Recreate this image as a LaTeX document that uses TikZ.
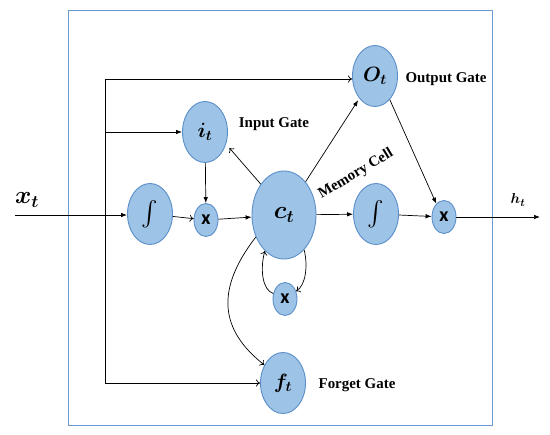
\documentclass[tikz,border=0pt]{standalone}
\usepackage{amsmath}
\usepackage{bm}
\usepackage{fontspec}
\setmainfont{Liberation Serif}
\newfontfamily\multfont{Carlito}
\usetikzlibrary{shapes.geometric, positioning, arrows.meta}

\definecolor{cellfill}{HTML}{9DC3E6}
\definecolor{cellline}{HTML}{5B8FC9}
\definecolor{framecol}{HTML}{6A9AD0}

\begin{document}
\begin{tikzpicture}[x=1bp, y=-1bp,
    gate/.style={ellipse, draw=cellline, fill=cellfill, line width=0.9bp,
      minimum width=45bp, minimum height=61bp, inner sep=0pt,
      font=\fontsize{22}{26}\selectfont},
    mult/.style={ellipse, draw=cellline, fill=cellfill, line width=0.9bp,
      minimum width=24bp, minimum height=33bp, inner sep=0pt,
      font=\multfont\bfseries\fontsize{20}{20}\selectfont},
    gatelabel/.style={font=\bfseries\fontsize{15}{17}\selectfont},
    solidtip/.style={-{Latex[length=6bp,width=4.5bp]}, line width=0.7bp},
    opentip/.style={-{To[length=4bp,width=7bp]}, line width=0.7bp}
  ]
  \useasboundingbox (0,0) rectangle (550,435);
  \draw[framecol, line width=1bp] (68,11) rectangle (492,425);

  % cell nodes
  \node[gate, font=\fontsize{26}{28}\selectfont] (intL) at (150,214) {$\int$};
  \node[mult] (mulIn) at (206,220) {x};
  \node[gate] (it) at (205,132) {$\bm{i_t}$};
  \node[gate, minimum width=64bp, minimum height=88bp,
    font=\fontsize{25}{28}\selectfont] (ct) at (284,215) {$\bm{c_t}$};
  \node[gate] (ot) at (375,76) {$\bm{O_t}$};
  \node[gate, font=\fontsize{26}{28}\selectfont] (intR) at (376,214) {$\int$};
  \node[mult] (mulOut) at (444,217) {x};
  \node[mult] (mulC) at (285,299) {x};
  \node[gate] (ft) at (283,383) {$\bm{f_t}$};

  % labels
  \node[gatelabel] (inLbl) at (274,124) {Input Gate};
  \node[gatelabel] (outLbl) at (446,79) {Output Gate};
  \node[gatelabel] (fgLbl) at (357,385) {Forget Gate};
  \node[gatelabel, rotate=31] (memLbl) at (356,174) {Memory Cell};
  \node[font=\fontsize{24}{26}\selectfont] (xt) at (27,200) {$\bm{x_t}$};
  \node[font=\fontsize{15}{17}\selectfont] (ht) at (518,200) {$\bm{h_t}$};

  % input and output ends
  \coordinate (src) at (15,215);
  \coordinate (dst) at (540,217);
  \coordinate (splitTop) at (105,79);
  \coordinate (splitIn) at (105,132);
  \coordinate (splitBot) at (105,383);

  \draw[solidtip] (src) -- (src -| intL.west);
  \draw[line width=0.7bp] (splitTop) -- (splitBot);
  \draw[opentip] (splitTop) -- (splitTop -| ot.west);
  \draw[solidtip] (splitIn) -- (it.west);
  \draw[opentip] (splitBot) -- (ft.west);

  \draw[opentip] (intL) -- (mulIn);
  \draw[solidtip] (it) -- (mulIn);
  \draw[solidtip] (mulIn) -- (ct);
  \draw[opentip, shorten >=5bp] (ct.127) -- (it.-30);
  \draw[solidtip, shorten >=2bp] (ct.57) -- (ot.-125);
  \draw[solidtip] (ct) -- (intR);
  \draw[solidtip] (intR) -- (mulOut);
  \draw[solidtip] (ot.-58) -- (mulOut.120);
  \draw[solidtip] (mulOut.east) -- (dst);

  % loop through the lower multiplier
  \draw[opentip] (ct.-60) .. controls (308,265) and (306,285) .. (mulC.35);
  \draw[opentip] (mulC.155) .. controls (262,290) and (260,268) .. (ct.-118);
  \draw[opentip] (ct.-142) .. controls (215,290) and (220,330) .. (ft.136);
\end{tikzpicture}
\end{document}
